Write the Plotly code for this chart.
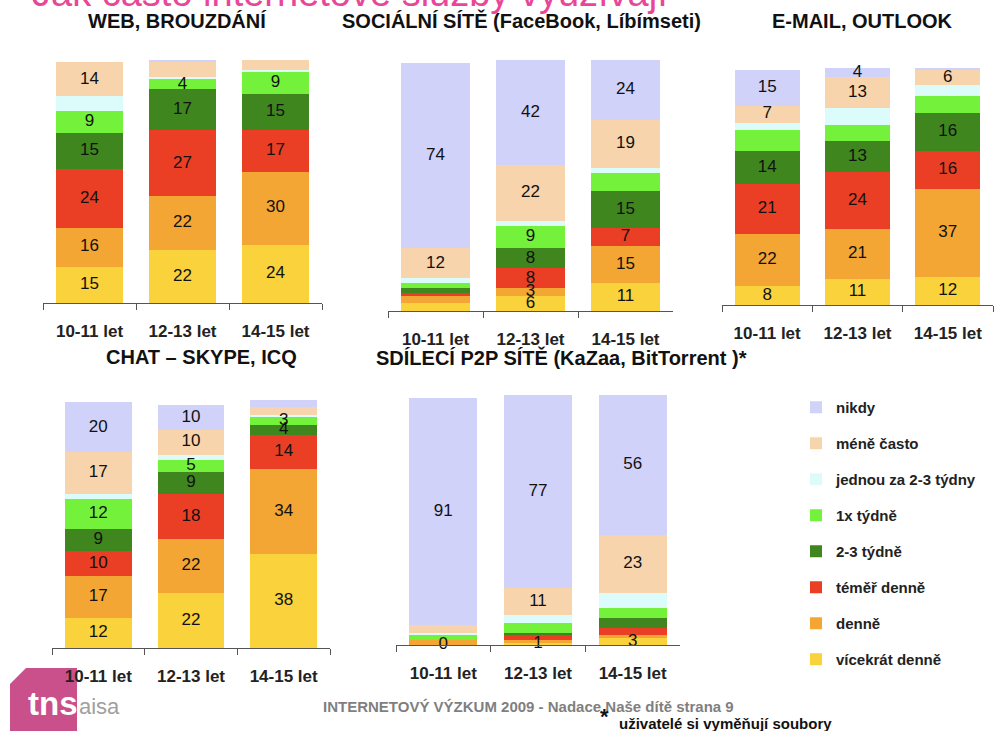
import plotly.graph_objects as go

W, H = 1004, 731

categories = ["10-11 let", "12-13 let", "14-15 let"]
series_names = ["vícekrát denně", "denně", "téměř denně", "2-3 týdně",
                "1x týdně", "jednou za 2-3 týdny", "méně často", "nikdy"]
series_colors = ["#F9D23C", "#F3A633", "#EA3F25", "#3F861F",
                 "#74F23B", "#DCFCFC", "#F8D4AD", "#D1D2FA"]

# values per series (bottom -> top), each list over the three age groups
web_values = [[15, 22, 24], [16, 22, 30], [24, 27, 17], [15, 17, 15],
              [9, 4, 9], [6, 1, 1], [14, 6, 4], [0, 1, 0]]
web_labels = [[1, 1, 1], [1, 1, 1], [1, 1, 1], [1, 1, 1],
              [1, 1, 1], [0, 0, 0], [1, 0, 0], [0, 0, 0]]

social_values = [[3, 6, 11], [3, 3, 15], [1, 8, 7], [2, 8, 15],
                 [2, 9, 7], [2, 2, 2], [12, 22, 19], [74, 42, 24]]
social_labels = [[0, 1, 1], [0, 1, 1], [0, 1, 1], [0, 1, 1],
                 [0, 1, 0], [0, 0, 0], [1, 1, 1], [1, 1, 1]]

email_values = [[8, 11, 12], [22, 21, 37], [21, 24, 16], [14, 13, 16],
                [9, 7, 7], [3, 7, 5], [7, 13, 6], [15, 4, 1]]
email_labels = [[1, 1, 1], [1, 1, 1], [1, 1, 1], [1, 1, 1],
                [0, 0, 0], [0, 0, 0], [1, 1, 1], [1, 1, 0]]

chat_values = [[12, 22, 38], [17, 22, 34], [10, 18, 14], [9, 9, 4],
               [12, 5, 3], [2, 2, 1], [17, 10, 3], [20, 10, 3]]
chat_labels = [[1, 1, 1], [1, 1, 1], [1, 1, 1], [1, 1, 1],
               [1, 1, 1], [0, 0, 0], [1, 1, 0], [1, 1, 0]]

p2p_values = [[0, 1, 3], [2, 1, 1], [0, 2, 3], [0, 1, 4],
              [2, 4, 4], [1, 3, 6], [3, 11, 23], [91, 77, 56]]
p2p_labels = [[1, 1, 1], [0, 0, 0], [0, 0, 0], [0, 0, 0],
              [0, 0, 0], [0, 0, 0], [0, 1, 1], [1, 1, 1]]

panel_titles = ["WEB, BROUZDÁNÍ", "SOCIÁLNÍ SÍTĚ (FaceBook, Líbímseti)",
                "E-MAIL, OUTLOOK", "CHAT – SKYPE, ICQ",
                "SDÍLECÍ P2P SÍTĚ (KaZaa, BitTorrent )*"]

page_title = "Jak často internetové služby využívají"
footer_text = "INTERNETOVÝ VÝZKUM 2009 - Nadace Naše dítě strana 9"
footnote_text = "uživatelé si vyměňují soubory"

# layout geometry (pixels)
panels = [
    dict(v=web_values, l=web_labels, x0=43, x1=322, base=303, top=60, tx=177, ty=21),
    dict(v=social_values, l=social_labels, x0=388, x1=673, base=311, top=60, tx=521, ty=21),
    dict(v=email_values, l=email_labels, x0=722, x1=993, base=305, top=68, tx=862, ty=21),
    dict(v=chat_values, l=chat_labels, x0=52, x1=330, base=648, top=400, tx=201, ty=357),
    dict(v=p2p_values, l=p2p_labels, x0=396, x1=680, base=645, top=395, tx=561, ty=357),
]

FONT = "Arial, Liberation Sans, sans-serif"
LABEL_FONT = dict(family=FONT, size=17, color="#111111")


def px(xp):
    return xp / W


def py(yp):
    return 1 - yp / H


fig = go.Figure()
layout_axes = {}
annotations = []
n_series = len(series_names)

for i, p in enumerate(panels):
    sfx = "" if i == 0 else str(i + 1)
    for s, name in enumerate(series_names):
        fig.add_trace(go.Bar(
            x=categories, y=p["v"][s], name=name,
            marker=dict(color=series_colors[s], line=dict(width=0)),
            legendgroup=name, showlegend=(i == 0),
            legendrank=n_series - s,
            xaxis="x" + sfx, yaxis="y" + sfx,
            hoverinfo="skip",
        ))
    # value labels drawn on top of all segments, centred in each segment
    lx, ly, lt = [], [], []
    for c, cat in enumerate(categories):
        cum = 0
        for s in range(n_series):
            v = p["v"][s][c]
            if p["l"][s][c]:
                lx.append(cat)
                ly.append(cum + v / 2)
                lt.append(str(v))
            cum += v
    fig.add_trace(go.Scatter(
        x=lx, y=ly, text=lt, mode="text", textposition="middle center",
        textfont=LABEL_FONT, xaxis="x" + sfx, yaxis="y" + sfx,
        showlegend=False, cliponaxis=False, hoverinfo="skip",
    ))
    layout_axes["xaxis" + sfx] = dict(
        domain=[px(p["x0"]), px(p["x1"])], anchor="y" + sfx,
        type="category", range=[-0.5, 2.5],
        showline=True, linecolor="#555555", linewidth=1,
        ticks="outside", tickson="boundaries", ticklen=6, tickcolor="#555555",
        ticklabelstandoff=13,
        tickfont=dict(family=FONT, size=17, color="#222222", weight="bold"),
        showgrid=False, zeroline=False, fixedrange=True,
    )
    layout_axes["yaxis" + sfx] = dict(
        domain=[py(p["base"]), py(p["top"])], anchor="x" + sfx,
        range=[0, 100], visible=False, fixedrange=True,
    )
    annotations.append(dict(
        text=panel_titles[i], x=px(p["tx"]), y=py(p["ty"]),
        xref="paper", yref="paper", xanchor="center", yanchor="middle",
        showarrow=False,
        font=dict(family=FONT, size=20, color="#111111", weight="bold"),
    ))

# page title (cut at top edge)
annotations.append(dict(
    text=page_title, x=px(30), y=py(-7), xref="paper", yref="paper",
    xanchor="left", yanchor="middle", showarrow=False,
    font=dict(family=FONT, size=38, color="#E9469A"),
))
# footer
annotations.append(dict(
    text=footer_text, x=px(528), y=py(706), xref="paper", yref="paper",
    xanchor="center", yanchor="middle", showarrow=False,
    font=dict(family=FONT, size=15, color="#7F7F7F", weight="bold"),
))
annotations.append(dict(
    text="*", x=px(604), y=py(716), xref="paper", yref="paper",
    xanchor="center", yanchor="middle", showarrow=False,
    font=dict(family=FONT, size=22, color="#111111", weight="bold"),
))
annotations.append(dict(
    text=footnote_text, x=px(617), y=py(723), xref="paper", yref="paper",
    xanchor="left", yanchor="middle", showarrow=False,
    font=dict(family=FONT, size=15, color="#111111", weight="bold"),
))
# logo text
annotations.append(dict(
    text="tns", x=px(26), y=py(703), xref="paper", yref="paper",
    xanchor="left", yanchor="middle", showarrow=False,
    font=dict(family=FONT, size=33, color="#FFFFFF", weight="bold"),
))
annotations.append(dict(
    text="aisa", x=px(77), y=py(706), xref="paper", yref="paper",
    xanchor="left", yanchor="middle", showarrow=False,
    font=dict(family=FONT, size=22, color="#A0A0A0"),
))

logo_path = "M {a},{b} L {c},{b} L {c},{d} L {e},{d} L {e},{f} Z".format(
    a=px(26), b=py(668), c=px(77), d=py(731), e=px(10), f=py(684))

fig.update_layout(
    width=W, height=H, margin=dict(l=0, r=0, t=0, b=0),
    paper_bgcolor="white", plot_bgcolor="white",
    barmode="stack", bargap=0.28,
    showlegend=True,
    legend=dict(
        x=px(796), y=py(391), xanchor="left", yanchor="top",
        traceorder="grouped", tracegroupgap=13.5,
        font=dict(family=FONT, size=15, color="#222222", weight="bold"),
        bgcolor="rgba(0,0,0,0)", itemclick=False, itemdoubleclick=False,
    ),
    annotations=annotations,
    shapes=[dict(type="path", path=logo_path, xref="paper", yref="paper",
                 fillcolor="#C9508B", line=dict(width=0), layer="below")],
    **layout_axes,
)

fig.write_html("out.html", config={"displayModeBar": False},
               post_script="document.body.style.margin='0';document.body.style.overflow='hidden';")
